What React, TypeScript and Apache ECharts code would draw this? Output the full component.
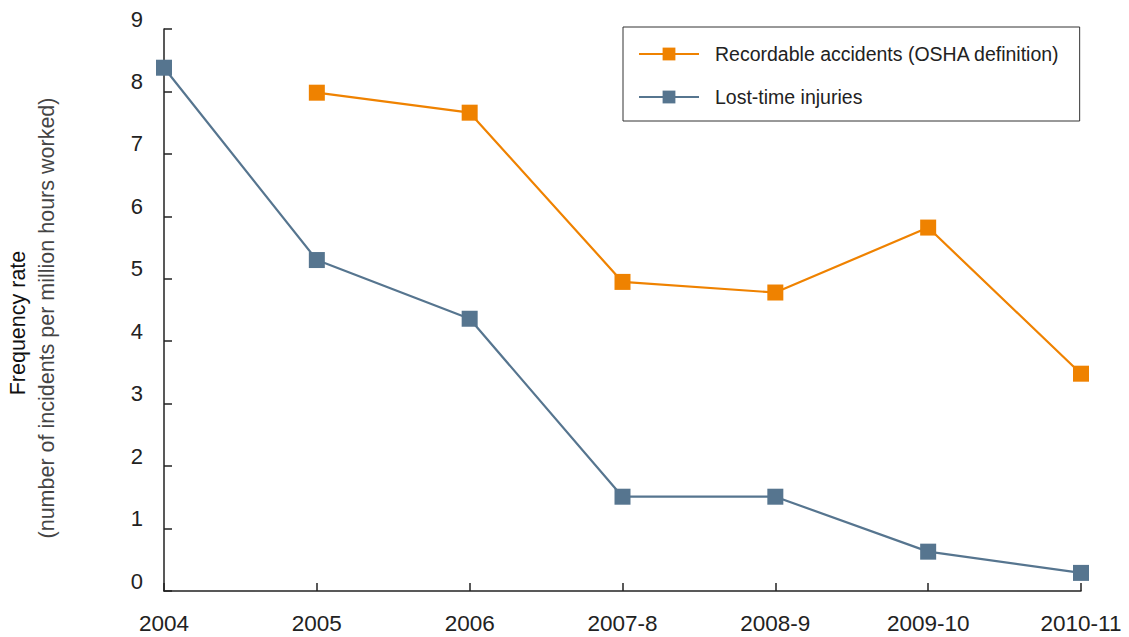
import React, { useEffect, useRef } from "react";
import * as echarts from "echarts";

const categories = ["2004", "2005", "2006", "2007-8", "2008-9", "2009-10", "2010-11"];
const recordable = [null, 7.98, 7.66, 4.95, 4.78, 5.82, 3.48];
const lostTime = [8.38, 5.3, 4.36, 1.51, 1.51, 0.63, 0.29];
const seriesNames = ["Recordable accidents (OSHA definition)", "Lost-time injuries"];
const yTitle = "Frequency rate";
const ySubtitle = "(number of incidents per million hours worked)";

const FONT = "'Liberation Sans', Helvetica, Arial, sans-serif";
const ORANGE = "#EF8200";
const BLUE = "#56758F";
const INK = "#222222";

export default function App() {
  const ref = useRef<HTMLDivElement>(null);
  useEffect(() => {
    if (!ref.current) return;
    const chart = echarts.init(ref.current, undefined, { renderer: "svg" });
    chart.setOption({
      animation: false,
      textStyle: { fontFamily: FONT },
      grid: { left: 164, right: 48, top: 29, bottom: 46, containLabel: false },
      legend: {
        orient: "vertical",
        left: 623,
        top: 27,
        borderColor: "#333",
        borderWidth: 1,
        padding: [17, 20, 14, 15],
        itemGap: 23,
        itemWidth: 60,
        itemHeight: 16,
        textStyle: { fontSize: 19.5, color: INK, fontFamily: FONT, lineHeight: 20, padding: [0, 0, 0, 11] },
        data: seriesNames,
      },
      xAxis: {
        type: "category",
        data: categories,
        boundaryGap: false,
        axisLine: { lineStyle: { color: INK, width: 1.5 } },
        axisTick: { inside: true, length: 8, lineStyle: { color: INK, width: 1.5 } },
        axisLabel: { fontSize: 22.5, color: INK, margin: 21, fontFamily: FONT },
      },
      yAxis: {
        type: "value",
        min: 0,
        max: 9,
        interval: 1,
        splitLine: { show: false },
        axisLine: { show: true, lineStyle: { color: INK, width: 1.5 } },
        axisTick: { show: true, inside: true, length: 8, lineStyle: { color: INK, width: 1.5 } },
        axisLabel: { fontSize: 22, color: INK, margin: 21, fontFamily: FONT, verticalAlign: "bottom", lineHeight: 20 },
      },
      graphic: [
        {
          type: "text",
          x: 18,
          y: 323,
          rotation: Math.PI / 2,
          style: { text: yTitle, fontSize: 21.5, fill: "#111", fontFamily: FONT, align: "center", verticalAlign: "middle" },
        },
        {
          type: "text",
          x: 47,
          y: 318,
          rotation: Math.PI / 2,
          style: { text: ySubtitle, fontSize: 21.5, fill: "#444", fontFamily: FONT, align: "center", verticalAlign: "middle" },
        },
      ],
      series: [
        {
          name: seriesNames[0],
          type: "line",
          data: recordable,
          symbol: "rect",
          symbolSize: 16,
          color: ORANGE,
          lineStyle: { color: ORANGE, width: 2.2 },
          itemStyle: { color: ORANGE },
        },
        {
          name: seriesNames[1],
          type: "line",
          data: lostTime,
          symbol: "rect",
          symbolSize: 16,
          color: BLUE,
          lineStyle: { color: BLUE, width: 2.2 },
          itemStyle: { color: BLUE },
        },
      ],
    });
    return () => chart.dispose();
  }, []);
  return <div ref={ref} style={{ width: 1129, height: 637, position: "absolute", left: 0, top: 0 }} />;
}
